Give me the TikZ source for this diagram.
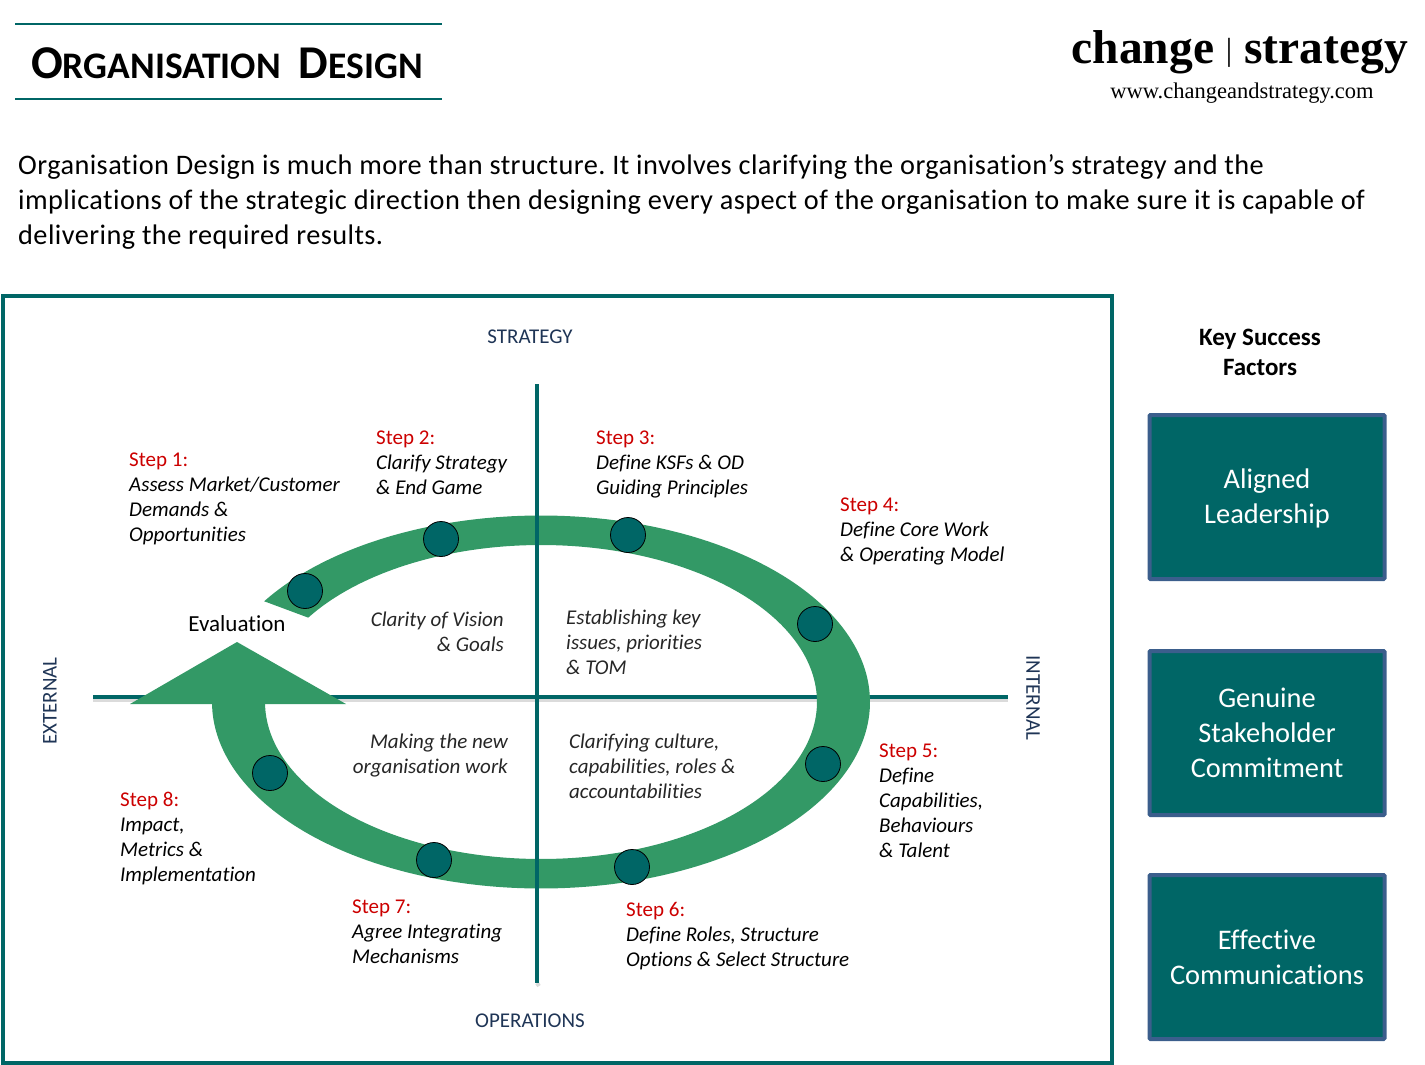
\documentclass[tikz,border=0pt]{standalone}
\usepackage{fontspec}
\setmainfont[Ligatures=NoCommon]{Carlito}
\newfontfamily\logofont{Liberation Serif}
\definecolor{ringgreen}{HTML}{339966}
\definecolor{deepteal}{HTML}{006666}
\definecolor{boxblue}{HTML}{3B5E8C}
\definecolor{stepred}{HTML}{CC0000}
\definecolor{axisnavy}{HTML}{1F3556}
\newcommand{\stepnote}[2]{{\upshape\color{stepred}Step #1:}\\ #2}
\newcommand{\fs}[2]{\fontsize{#1}{#2}\selectfont}
\tikzset{
  note/.style={inner sep=0pt,anchor=north west,align=left,font=\fs{21}{25}\itshape},
  noter/.style={inner sep=0pt,anchor=north east,align=right,font=\fs{21}{25}\itshape,text=black!85},
  axisname/.style={inner sep=0pt,font=\fs{21}{22},text=axisnavy},
  factor/.style={draw=boxblue,line width=4pt,fill=deepteal,rounded corners=1pt,text=white,align=center,
    minimum width=235pt,minimum height=164pt,font=\fs{28.4}{35}},
  stop/.style={circle,draw=black,fill=deepteal,line width=0.8pt,minimum size=35pt,inner sep=0pt},
  axisline/.style={draw=deepteal,line width=4pt},
  axisshade/.style={draw=black!14,line width=4pt}
}
\begin{document}
\frenchspacing
\begin{tikzpicture}[x=1pt,y=-1pt]
    \useasboundingbox (0,0) rectangle (1425,1065);

    % heading
    \coordinate (ruleAl) at (15,24); \coordinate (ruleAr) at (442,24);
    \coordinate (ruleBl) at (15,99); \coordinate (ruleBr) at (442,99);
    \draw[deepteal,line width=2pt] (ruleAl) to (ruleAr);
    \draw[deepteal,line width=2pt] (ruleBl) to (ruleBr);
    \node[inner sep=0pt,anchor=base west] (title) at (31,79) {\bfseries\fs{47}{50}O\fs{37.5}{50}RGANISATION\hspace{18pt}\fs{47}{50}D\fs{37.5}{50}ESIGN};
    \node[inner sep=0pt,anchor=base east] (logo) at (1408,64) {\logofont\bfseries\fs{47.5}{50}change {\mdseries\fs{32}{50}\raisebox{3pt}{|}} strategy};
    \node[inner sep=0pt,anchor=base] (web) at (1242,99) {\logofont\fs{22.5}{26}www.changeandstrategy.com};
    \node[inner sep=0pt,anchor=north west,align=left,font=\fs{28.3}{35}\addfontfeature{LetterSpace=1.55}] (intro) at (18,154) {Organisation Design is much more than structure. It involves clarifying the organisation’s strategy and the\\
    implications of the strategic direction then designing every aspect of the organisation to make sure it is capable of\\
    delivering the required results.};

    % frame
    \node[draw=deepteal,line width=4pt,minimum width=1109pt,minimum height=767pt,inner sep=0pt] (frame) at (557.5,679.5) {};

    % axes
    \coordinate (west) at (93,697); \coordinate (east) at (1008,697);
    \coordinate (north) at (537,384); \coordinate (south) at (537,983);
    \coordinate (westS) at (93,700); \coordinate (eastS) at (1008,700);
    \coordinate (southS) at (539,986);
    \draw[axisshade] (westS) to (eastS);
    \draw[axisline] (west) to (east);

    % ring and head
    \fill[ringgreen] plot[smooth,samples=120,domain=180:-147.3] ({541+329*cos(\x)},{702+186.5*sin(\x)})
      -- plot[smooth,samples=120,domain=-147.5:180] ({541+276*cos(\x)},{702+157*sin(\x)}) -- cycle;
    \fill[ringgreen] (237,642) -- (346,704) -- (130,704) -- cycle;

    \draw[axisshade] (southS) to (south);
    \draw[axisline] (north) to (south);

    \foreach \name/\px/\py in {s1/305/591,s2/441/539,s3/628/535,s4/815/624,s5/823/764,s6/632/867,s7/434/860,s8/270/773}
        \node[stop] (\name) at (\px,\py) {};

    % axis names
    \node[axisname] (strategy) at (530,337) {STRATEGY};
    \node[axisname] (operations) at (530,1021) {OPERATIONS};
    \node[axisname,rotate=90] (external) at (50,701) {EXTERNAL};
    \node[axisname,rotate=-90] (internal) at (1033,698) {INTERNAL};

    % steps
    \node[note] (n1) at (129,453) {\stepnote{1}{Assess Market/Customer\\ Demands \&\\ Opportunities}};
    \node[note] (n2) at (376,431) {\stepnote{2}{Clarify Strategy\\ \& End Game}};
    \node[note] (n3) at (596,431) {\stepnote{3}{Define KSFs \& OD\\ Guiding Principles}};
    \node[note] (n4) at (840,498) {\stepnote{4}{Define Core Work\\ \& Operating Model}};
    \node[note] (n5) at (879,744) {\stepnote{5}{Define\\ Capabilities,\\ Behaviours\\ \& Talent}};
    \node[note] (n6) at (626,902) {\stepnote{6}{Define Roles, Structure\\ Options \& Select Structure}};
    \node[note] (n7) at (352,900) {\stepnote{7}{Agree Integrating\\ Mechanisms}};
    \node[note] (n8) at (120,792) {\stepnote{8}{Impact,\\ Metrics \&\\ Implementation}};

    \node[inner sep=0pt,font=\fs{23}{25}] (eval) at (237,624) {Evaluation};

    % quadrants
    \node[noter] (q1) at (504,612) {Clarity of Vision\\ \& Goals};
    \node[note,text=black!85] (q2) at (566,610) {Establishing key\\ issues, priorities\\ \& TOM};
    \node[noter] (q3) at (508,734) {Making the new\\ organisation work};
    \node[note,text=black!85] (q4) at (569,734) {Clarifying culture,\\ capabilities, roles \&\\ accountabilities};

    % success factors
    \node[inner sep=0pt,align=center,font=\bfseries\fs{25}{30}] (ksf) at (1260,352) {Key Success\\ Factors};
    \node[factor] (f1) at (1267,497) {\rule{0pt}{23pt}Aligned\\ Leadership};
    \node[factor] (f2) at (1267,733) {Genuine\\ Stakeholder\\ Commitment};
    \node[factor] (f3) at (1267,957) {Effective\\ Communications};
\end{tikzpicture}
\end{document}
